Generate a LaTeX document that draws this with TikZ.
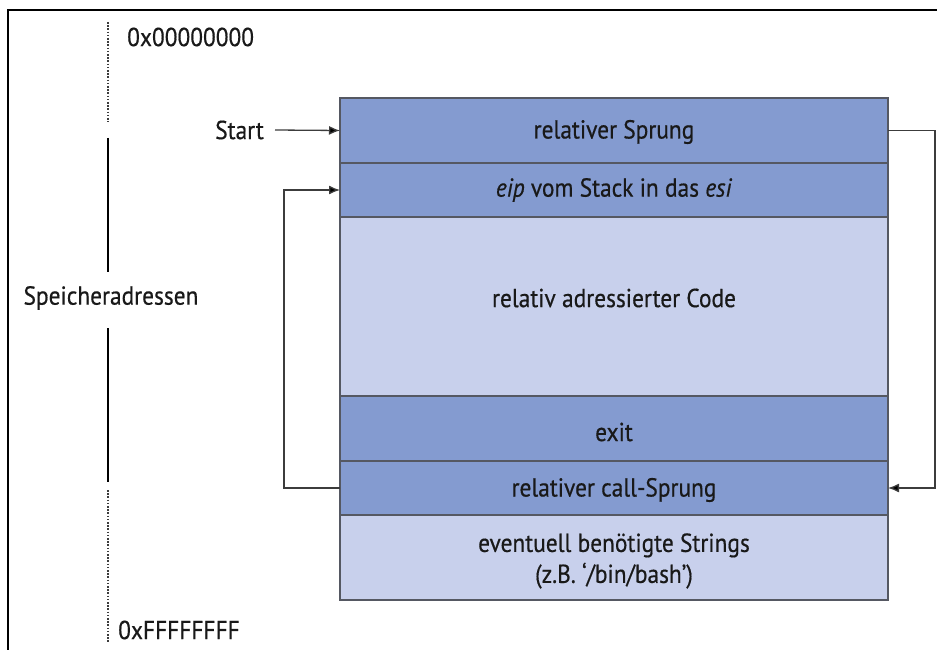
\documentclass[tikz,border=0pt]{standalone}
\usepackage{fontspec}
\setmainfont{PT Sans}[FakeStretch=0.9,FakeBold=0.5]
\usetikzlibrary{arrows.meta}
\definecolor{darkrow}{RGB}{132,155,208}
\definecolor{lightrow}{RGB}{200,208,236}
\definecolor{rowline}{RGB}{85,88,98}
\definecolor{conn}{RGB}{60,60,60}
\definecolor{txt}{RGB}{25,25,25}
\tikzset{
  row/.style={draw=rowline,line width=1.1pt,minimum width=548pt,inner sep=0pt,outer sep=0pt,
    text=txt,font=\fontsize{26}{31}\selectfont,align=center},
  darkbox/.style={row,fill=darkrow},
  lightbox/.style={row,fill=lightrow},
  conline/.style={draw=conn,line width=1.3pt},
  arr/.style={conline,-{Latex[length=11pt,width=9pt,fill=black]}},
  lbl/.style={text=txt,font=\fontsize{26}{31}\selectfont,inner sep=0pt,align=center},
  dotline/.style={draw=conn,line width=1.1pt,dash pattern=on 1.6pt off 1.6pt},
  axline/.style={draw=black,line width=1.4pt}
}
\begin{document}
\begin{tikzpicture}[x=1pt,y=-1pt]
\useasboundingbox (0,0) rectangle (937,650);
% frame
\draw[line width=1.2pt,black] (8,650) -- (8,10) -- (937,10);
% rows
\node[darkbox,minimum height=65pt] (r1) at (614,130.5) {};
\node[darkbox,minimum height=54pt] (r2) at (614,190) {};
\node[lightbox,minimum height=179pt] (r3) at (614,306.5) {};
\node[darkbox,minimum height=65pt] (r4) at (614,428.5) {};
\node[darkbox,minimum height=54pt] (r5) at (614,488) {};
\node[lightbox,minimum height=85pt] (r6) at (614,557.5) {};
\node[lbl] (t1) at (614,132) {relativer Sprung};
\node[lbl] (t2) at (614,190) {\textit{eip} vom Stack in das \textit{esi}};
\node[lbl] (t3) at (614,298) {relativ adressierter Code};
\node[lbl] (t4) at (614,432) {exit};
\node[lbl] (t5) at (614,490) {relativer call-Sprung};
\node[lbl] (t6) at (614,561) {eventuell benötigte Strings\\(z.B. ‘/bin/bash’)};
% start
\node[lbl,anchor=east] (start) at (264,130) {Start};
\draw[arr] (start.east) ++(11,0) -- (r1.west);
% left loop
\draw[arr] (r5.west) -- (284,488) |- (r2.west);
% right loop
\draw[arr] (r1.east) -- (935,130.5) |- (r5.east);
% address axis
\node[lbl,anchor=west] (a0) at (127,37) {0x00000000};
\node[lbl,anchor=west] (af) at (118,630) {0xFFFFFFFF};
\node[lbl] (sp) at (111,298) {Speicheradressen};
\coordinate (d1a) at (108,22);
\coordinate (d1b) at (108,122);
\coordinate (s1a) at (108,138);
\coordinate (s1b) at (108,272);
\coordinate (s2a) at (108,328);
\coordinate (s2b) at (108,482);
\coordinate (d2a) at (108,490);
\coordinate (d2b) at (108,642);
\draw[dotline] (d1a) -- (d1b);
\draw[axline] (s1a) -- (s1b);
\draw[axline] (s2a) -- (s2b);
\draw[dotline] (d2a) -- (d2b);
\end{tikzpicture}
\end{document}
